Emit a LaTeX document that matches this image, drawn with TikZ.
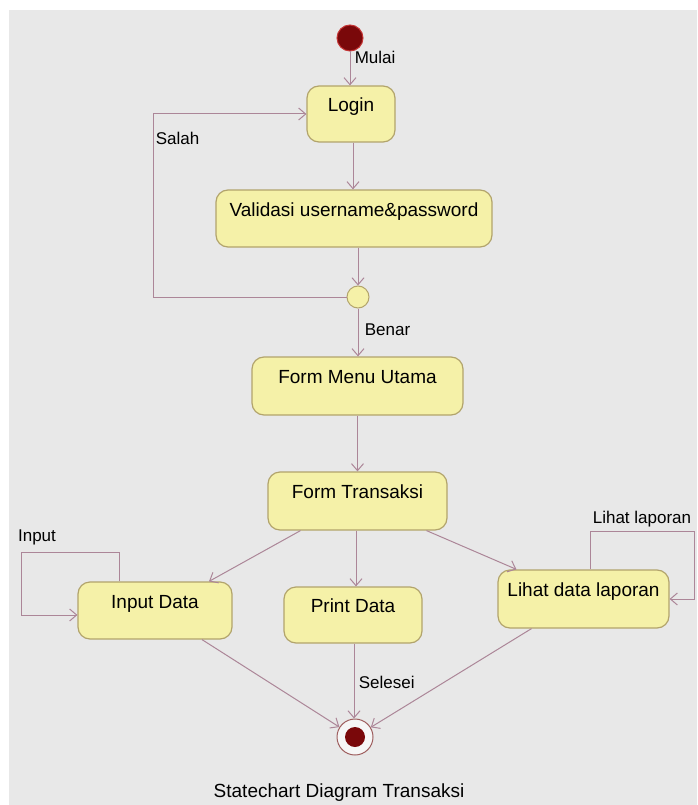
\documentclass[tikz,border=0pt]{standalone}
\usepackage{fontspec}
\setmainfont{Liberation Sans}
\usepackage{tikz}
\usetikzlibrary{arrows.meta, positioning}

\definecolor{bgcol}{RGB}{232,232,232}
\definecolor{boxfill}{RGB}{245,241,168}
\definecolor{boxline}{RGB}{178,164,108}
\definecolor{linecol}{RGB}{172,134,152}
\definecolor{dotfill}{RGB}{122,8,10}
\definecolor{dotline}{RGB}{196,52,52}

\begin{document}
\begin{tikzpicture}[x=1pt,y=-1pt,>={Straight Barb[length=7pt,width=12pt]},
        every path/.style={line width=1pt},
        statebox/.style={draw=boxline, fill=boxfill, rounded corners=12pt, line width=1.2pt,
            font=\fontsize{19}{22}\selectfont, text height=13.5pt, text depth=18.5pt, inner sep=0pt},
        initst/.style={circle, fill=dotfill, draw=dotline, minimum size=26pt, inner sep=0pt},
        choice/.style={circle, fill=boxfill, draw=boxline, minimum size=22pt, inner sep=0pt},
        finalst/.style={circle, fill=white!60!bgcol, draw=dotline!45!gray, minimum size=36pt, inner sep=0pt,
            path picture={\fill[dotfill] (path picture bounding box.center) circle (10pt);}},
        trans/.style={->, draw=linecol},
        lbl/.style={font=\fontsize{17}{20}\selectfont}]
    \useasboundingbox (0,0) rectangle (697,805);
    \fill[white] (0,0) rectangle (697,805);
    \fill[bgcol] (9,10) rectangle (697,805);

    % states
    \node[initst] (start) at (350,38) {};
    \node[statebox, minimum width=88pt, minimum height=56pt] (login) at (351,114) {Login};
    \node[statebox, minimum width=276pt, minimum height=57pt] (valid) at (354,218.5) {Validasi username\&password};
    \node[choice] (dec) at (358,297) {};
    \node[statebox, minimum width=211pt, minimum height=58pt] (menu) at (357.5,386) {Form Menu Utama};
    \node[statebox, minimum width=179pt, minimum height=58pt] (transaksi) at (357.5,501) {Form Transaksi};
    \node[statebox, minimum width=154pt, minimum height=57pt] (input) at (155,610.5) {Input Data};
    \node[statebox, minimum width=138pt, minimum height=56pt] (print) at (353,615) {Print Data};
    \node[statebox, minimum width=171pt, minimum height=58pt] (lihat) at (583.5,599) {Lihat data laporan};
    \node[finalst] (final) at (355,737) {};

    \coordinate (salahc) at (153,297);
    \coordinate (inloop) at (21,552);
    \coordinate (lihloop) at (694,531);

    % transitions
    \draw[trans] (start) -- (start |- login.north);
    \node[lbl, anchor=west] (mulai) at (351,57) {Mulai};
    \draw[trans] (login.south -| 353,0) -- (valid.north -| 353,0);
    \draw[trans] (valid.south -| dec) -- (dec.north);
    \draw[trans] (dec.west) -- (salahc) |- (login.west);
    \node[lbl, anchor=west] (salah) at (152,138) {Salah};
    \draw[trans] (dec.south) -- (menu.north -| dec);
    \node[lbl, anchor=west] (benar) at (361,330) {Benar};
    \draw[trans] (menu.south) -- (transaksi.north);

    \draw[trans] ([xshift=-57pt]transaksi.south) -- ([xshift=54pt]input.north);
    \draw[trans] (transaksi.south -| 356,0) -- (print.north -| 356,0);
    \draw[trans] ([xshift=69pt]transaksi.south) -- ([xshift=-67pt]lihat.north);

    \draw[trans] ([xshift=-36pt]input.north) |- (inloop) |- ([yshift=-4.5pt]input.west);
    \node[lbl] (inlbl) at (37,537) {Input};
    \draw[trans] ([xshift=6.5pt]lihat.north) |- (lihloop) |- (lihat.east);
    \node[lbl] (lihlbl) at (642,519) {Lihat laporan};

    \draw[trans] ([xshift=47pt]input.south) -- (final);
    \draw[trans] (print.south -| 354,0) -- (final.north -| 354,0);
    \node[lbl, anchor=west] (selesei) at (355,682) {Selesei};
    \draw[trans] ([xshift=-52pt]lihat.south) -- (final);

    \node[font=\fontsize{19}{22}\selectfont] (caption) at (339,793) {Statechart Diagram Transaksi};
\end{tikzpicture}
\end{document}
